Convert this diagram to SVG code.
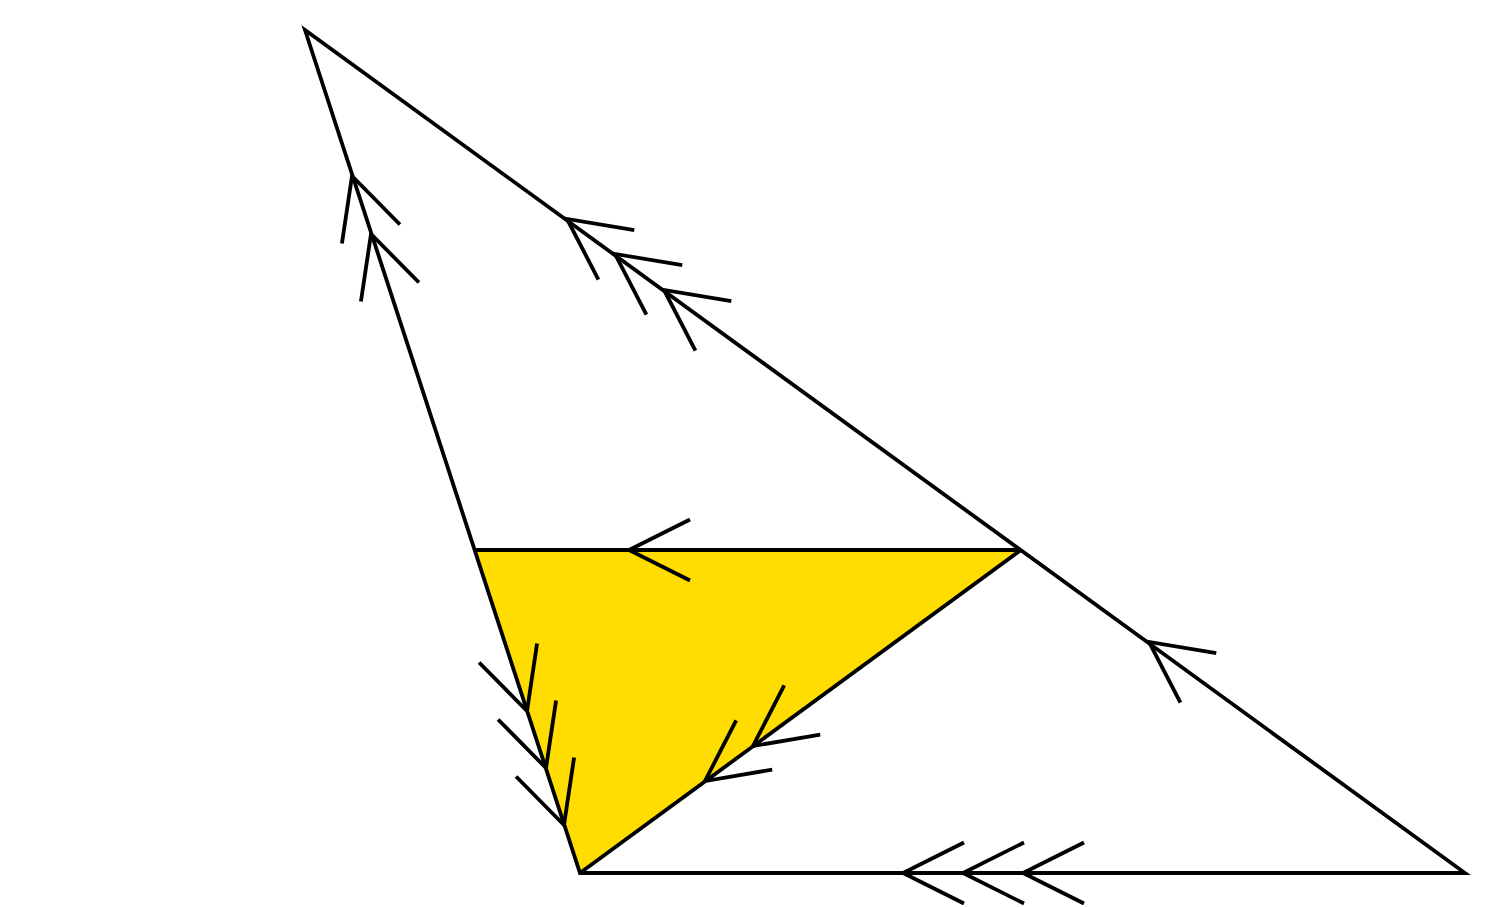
<svg xmlns="http://www.w3.org/2000/svg" width="1500" height="907" viewBox="0 0 1500 907">
  <style>
    .ln { fill: none; stroke: #000; stroke-width: 3.8; stroke-linejoin: miter; }
    .fillTri { fill: #FFDD00; stroke: none; }
  </style>
  <defs>
    <path id="chev" d="M 61,-30.5 L 0,0 L 61,30.5" class="ln"/>
  </defs>
  <rect width="1500" height="907" fill="#fff"/>
  <g id="shaded-triangle">
    <polygon class="fillTri" points="475,550 1021,550 580,873"/>
  </g>
  <g id="connectors">
    <polygon class="ln" points="305,30 580,873 1465,873"/>
    <line class="ln" x1="475" y1="550" x2="1021" y2="550"/>
    <line class="ln" x1="1021" y1="550" x2="580" y2="873"/>
  </g>
  <g id="arrowheads">
    <!-- AB, toward A -->
    <use href="#chev" transform="translate(352,176) rotate(71.93)"/>
    <use href="#chev" transform="translate(371,234) rotate(71.93)"/>
    <!-- AB lower, toward B -->
    <use href="#chev" transform="translate(527,711) rotate(-108.07)"/>
    <use href="#chev" transform="translate(546,768) rotate(-108.07)"/>
    <use href="#chev" transform="translate(564,825) rotate(-108.07)"/>
    <!-- AC, toward A -->
    <use href="#chev" transform="translate(567,219) rotate(36)"/>
    <use href="#chev" transform="translate(615,254) rotate(36)"/>
    <use href="#chev" transform="translate(664,290) rotate(36)"/>
    <use href="#chev" transform="translate(1149,642) rotate(36)"/>
    <!-- EB, toward B -->
    <use href="#chev" transform="translate(753,746) rotate(-36.22)"/>
    <use href="#chev" transform="translate(705,781) rotate(-36.22)"/>
    <!-- DE -->
    <use href="#chev" transform="translate(629,550)"/>
    <!-- BC -->
    <use href="#chev" transform="translate(903,873)"/>
    <use href="#chev" transform="translate(963,873)"/>
    <use href="#chev" transform="translate(1023,873)"/>
  </g>
</svg>
